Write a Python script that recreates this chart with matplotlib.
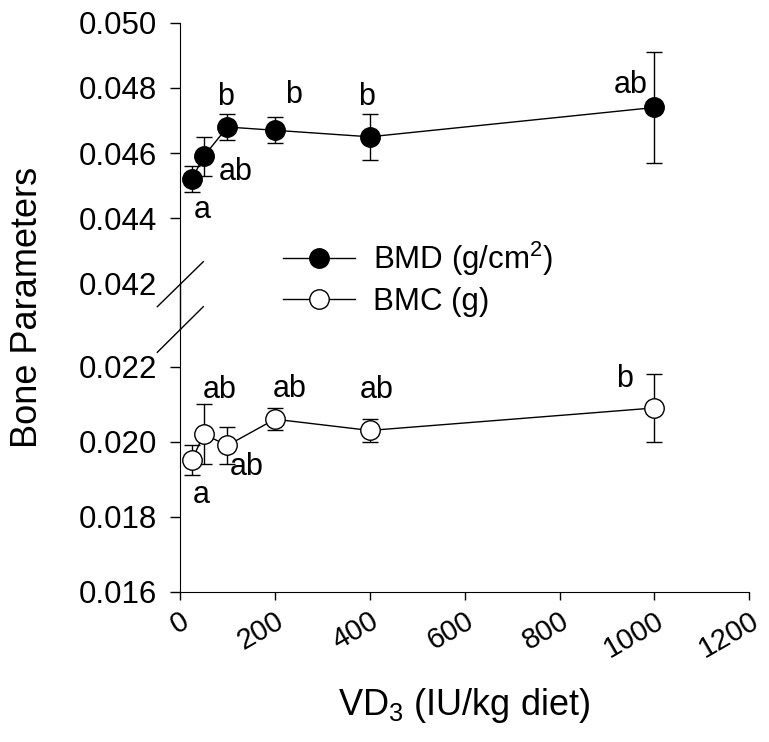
import matplotlib
matplotlib.use("Agg")
import matplotlib.pyplot as plt
from matplotlib.lines import Line2D
from matplotlib.ticker import FormatStrFormatter

plt.rcParams['font.family'] = ['Liberation Sans', 'DejaVu Sans']
plt.rcParams['mathtext.fontset'] = 'custom'
plt.rcParams['mathtext.rm'] = 'Liberation Sans'

# data
vd3 = [25, 50, 100, 200, 400, 1000]
bmd = [0.0452, 0.0459, 0.0468, 0.0467, 0.0465, 0.0474]
bmd_err = [0.0004, 0.0006, 0.0004, 0.0004, 0.0007, 0.0017]
bmc = [0.0195, 0.0202, 0.0199, 0.0206, 0.0203, 0.0209]
bmc_err = [0.0004, 0.0008, 0.0005, 0.0003, 0.0003, 0.0009]

# significance letters (text, x, y baseline)
bmd_letters = [('a', 47, 0.04400), ('ab', 118, 0.04518), ('b', 96, 0.04748),
               ('b', 239, 0.04753), ('b', 393, 0.04748), ('ab', 951, 0.04783)]
bmc_letters = [('a', 44, 0.01837), ('ab', 83, 0.02116), ('ab', 141, 0.01911),
               ('ab', 232, 0.02120), ('ab', 415, 0.02116), ('b', 937, 0.02147)]

W, H = 769, 742
fig = plt.figure(figsize=(W / 100, H / 100), dpi=100)

left = 180 / W
width = (749.3 - 180) / W
ax_top = fig.add_axes([left, 1 - 283.5 / H, width, (283.5 - 22.7) / H])
ax_bot = fig.add_axes([left, 1 - 591.7 / H, width, (591.7 - 329.2) / H])

style = dict(color='black', lw=1, marker='o', ms=14, mec='black', mew=1,
             ecolor='black', elinewidth=1, capsize=5.5, capthick=1)
ax_top.errorbar(vd3, bmd, yerr=bmd_err, mfc='black', **style)
ax_bot.errorbar(vd3, bmc, yerr=bmc_err, mfc='white', **style)

for t, x, y in bmd_letters:
    ax_top.text(x, y, t, ha='center', va='baseline', fontsize=22)
for t, x, y in bmc_letters:
    ax_bot.text(x, y, t, ha='center', va='baseline', fontsize=22)

for ax in (ax_top, ax_bot):
    ax.set_xlim(0, 1200)
    ax.spines['top'].set_visible(False)
    ax.spines['right'].set_visible(False)
    ax.yaxis.set_major_formatter(FormatStrFormatter('%.3f'))
    ax.tick_params(axis='y', direction='out', length=7, width=1, labelsize=22.5, pad=9.5)
    ax.patch.set_alpha(0)

ax_top.set_ylim(0.042, 0.050)
ax_top.set_yticks([0.042, 0.044, 0.046, 0.048, 0.050])
ax_top.yaxis.get_major_ticks()[0].tick1line.set_visible(False)
ax_top.spines['bottom'].set_visible(False)
ax_top.tick_params(axis='x', bottom=False, labelbottom=False)

ax_bot.set_ylim(0.016, 0.023)
ax_bot.set_yticks([0.016, 0.018, 0.020, 0.022])
ax_bot.set_xticks([0, 200, 400, 600, 800, 1000, 1200])
ax_bot.tick_params(axis='x', direction='out', length=6, width=1, labelsize=21, pad=5)
for lab in ax_bot.get_xticklabels():
    lab.set_rotation(30)
    lab.set_ha('right')
    lab.set_va('top')
    lab.set_rotation_mode('anchor')

# spine through the gap and the break marks
def px(x, y):
    return x / W, 1 - y / H

for (x0, y0), (x1, y1) in [((180, 283.5), (180, 329.2)),
                           ((157.3, 306.7), (203.3, 261.7)),
                           ((157.3, 352.3), (203.3, 306.7))]:
    a, b = px(x0, y0)
    c, d = px(x1, y1)
    fig.add_artist(Line2D([a, c], [b, d], transform=fig.transFigure,
                          color='black', lw=1))

fig.text(27.5 / W, 1 - 307.5 / H, 'Bone Parameters', rotation=90,
         ha='center', va='center', fontsize=26)
fig.text(464.5 / W, 1 - 715 / H, r'VD$_\mathregular{3}$ (IU/kg diet)',
         ha='center', va='baseline', fontsize=26)

handles = [Line2D([], [], color='black', lw=1, marker='o', ms=14, mfc='black', mec='black'),
           Line2D([], [], color='black', lw=1, marker='o', ms=14, mfc='white', mec='black')]
fig.legend(handles, [r'BMD (g/cm$^\mathregular{2}$)', 'BMC (g)'],
           loc='center left', bbox_to_anchor=(283 / W, 1 - 278.3 / H),
           frameon=False, fontsize=22.5, handlelength=2.3, handletextpad=0.58,
           labelspacing=0.27, borderpad=0, borderaxespad=0)

fig.savefig('out.png', dpi=100)
